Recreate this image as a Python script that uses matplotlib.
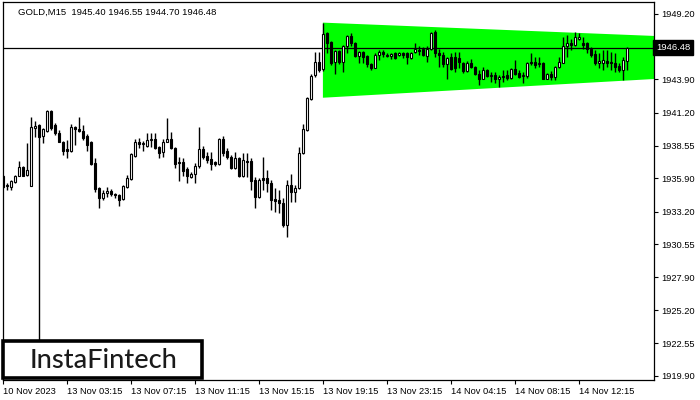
#!/usr/bin/env python3

import numpy as np
import matplotlib
matplotlib.use('Agg')
import matplotlib.pyplot as plt
import matplotlib.transforms as mtransforms
from matplotlib.patches import Rectangle

# GOLD M15 candles
opens = [1936.09, 1935.28, 1935.19, 1935.60, 1936.09, 1936.82, 1936.17, 1935.28, 1939.97, 1940.21,
         1939.33, 1939.73, 1941.35, 1940.21, 1939.57, 1938.85, 1938.27, 1938.11, 1940.05, 1939.89,
         1939.73, 1939.33, 1938.85, 1937.14, 1935.11, 1934.30, 1934.71, 1934.87, 1934.63, 1934.55,
         1934.22, 1935.19, 1935.84, 1937.71, 1938.85, 1938.68, 1938.52, 1939.00, 1939.08, 1938.44,
         1938.03, 1938.85, 1939.08, 1938.35, 1937.22, 1937.22, 1936.65, 1936.01, 1936.25, 1936.90,
         1938.27, 1937.71, 1937.46, 1937.22, 1937.06, 1939.08, 1938.11, 1937.63, 1936.73, 1937.54,
         1936.09, 1937.30, 1937.30, 1935.76, 1934.39, 1935.93, 1935.93, 1935.52, 1934.22, 1934.14,
         1933.90, 1932.12, 1935.36, 1934.79, 1935.11, 1937.95, 1939.81, 1942.32, 1944.26, 1945.32,
         1944.75, 1947.66, 1946.93, 1945.32, 1946.20, 1945.32, 1946.61, 1947.42, 1946.85, 1945.80,
         1946.12, 1945.80, 1945.15, 1944.83, 1945.88, 1946.12, 1945.88, 1945.80, 1946.04, 1945.88,
         1946.04, 1946.04, 1945.64, 1946.12, 1946.29, 1946.37, 1945.80, 1946.37, 1947.75, 1946.04,
         1945.88, 1945.15, 1945.72, 1945.72, 1945.64, 1945.23, 1944.59, 1945.23, 1944.91, 1944.34,
         1943.94, 1944.67, 1944.18, 1944.26, 1943.94, 1944.18, 1944.26, 1944.02, 1944.75, 1944.42,
         1944.18, 1944.18, 1945.32, 1945.32, 1945.15, 1945.23, 1943.94, 1944.34, 1944.10, 1944.91,
         1945.23, 1946.61, 1946.85, 1946.69, 1947.18, 1946.85, 1946.85, 1946.37, 1945.96, 1945.23,
         1945.23, 1945.40, 1945.32, 1945.23, 1944.99, 1944.67, 1945.40]
highs = [1936.17, 1935.52, 1935.76, 1936.17, 1937.30, 1936.90, 1938.76, 1940.86, 1940.50, 1940.30,
         1939.97, 1941.45, 1941.45, 1940.38, 1939.81, 1938.90, 1939.00, 1940.30, 1940.10, 1940.86,
         1940.21, 1939.50, 1938.92, 1937.54, 1935.20, 1934.95, 1935.19, 1935.03, 1934.70, 1934.60,
         1935.36, 1936.17, 1937.95, 1939.08, 1939.16, 1938.92, 1939.57, 1939.57, 1939.57, 1938.50,
         1939.08, 1940.78, 1939.65, 1938.40, 1937.63, 1937.54, 1936.82, 1936.40, 1937.14, 1940.05,
         1938.52, 1938.03, 1938.03, 1937.30, 1939.15, 1939.33, 1938.35, 1937.79, 1938.03, 1937.63,
         1937.95, 1937.95, 1937.54, 1936.01, 1935.93, 1937.63, 1936.57, 1935.76, 1935.11, 1934.95,
         1934.30, 1935.76, 1936.25, 1935.36, 1938.44, 1940.30, 1942.50, 1944.34, 1946.12, 1946.10,
         1948.47, 1947.75, 1947.00, 1946.30, 1946.30, 1946.70, 1947.50, 1947.66, 1946.90, 1946.20,
         1946.20, 1945.90, 1945.23, 1946.04, 1946.29, 1946.29, 1946.04, 1946.04, 1946.10, 1946.12,
         1946.12, 1946.10, 1946.12, 1946.85, 1946.61, 1946.53, 1946.61, 1947.75, 1947.90, 1946.37,
         1946.12, 1945.70, 1946.04, 1946.12, 1946.12, 1945.30, 1945.40, 1945.56, 1945.00, 1944.67,
         1944.91, 1944.75, 1944.51, 1944.51, 1944.26, 1944.67, 1944.67, 1944.80, 1945.48, 1944.67,
         1944.51, 1945.30, 1946.04, 1945.72, 1945.72, 1945.30, 1944.40, 1944.59, 1945.00, 1945.72,
         1947.34, 1947.50, 1947.18, 1947.75, 1947.66, 1947.34, 1946.90, 1946.53, 1946.29, 1946.04,
         1946.29, 1946.29, 1946.12, 1946.04, 1945.23, 1945.72, 1946.55]
lows = [1935.11, 1934.95, 1934.95, 1935.52, 1936.09, 1936.09, 1936.09, 1935.28, 1939.25, 1922.60,
        1938.76, 1939.65, 1939.81, 1939.41, 1938.80, 1937.79, 1937.54, 1938.00, 1938.60, 1939.65,
        1939.00, 1938.11, 1937.00, 1934.79, 1933.50, 1934.14, 1934.39, 1934.47, 1934.30, 1933.65,
        1934.14, 1935.10, 1935.76, 1937.63, 1938.35, 1938.11, 1938.44, 1938.44, 1938.30, 1937.54,
        1937.63, 1938.80, 1938.30, 1936.73, 1935.68, 1936.09, 1935.52, 1935.90, 1935.52, 1936.73,
        1937.50, 1937.14, 1936.57, 1936.90, 1937.00, 1937.71, 1937.46, 1936.65, 1936.65, 1936.01,
        1936.01, 1936.01, 1934.95, 1933.50, 1934.30, 1934.95, 1934.79, 1933.33, 1933.17, 1933.10,
        1931.96, 1931.15, 1933.98, 1933.98, 1935.00, 1937.87, 1939.73, 1942.20, 1944.10, 1944.50,
        1944.60, 1946.04, 1945.07, 1944.34, 1945.15, 1944.51, 1946.04, 1946.61, 1945.70, 1945.23,
        1945.23, 1944.91, 1944.67, 1944.80, 1945.48, 1945.72, 1945.75, 1945.56, 1945.56, 1945.80,
        1945.64, 1945.15, 1945.56, 1946.04, 1945.88, 1945.80, 1945.32, 1946.30, 1945.72, 1944.91,
        1944.91, 1943.94, 1944.70, 1944.51, 1944.83, 1944.42, 1944.50, 1944.83, 1944.26, 1943.45,
        1943.90, 1944.10, 1943.70, 1943.62, 1943.29, 1943.70, 1943.86, 1943.94, 1944.26, 1944.02,
        1943.62, 1944.02, 1945.07, 1944.83, 1944.91, 1943.90, 1943.90, 1943.86, 1943.86, 1944.83,
        1945.20, 1945.72, 1946.29, 1946.60, 1947.10, 1946.37, 1946.04, 1945.72, 1945.07, 1944.83,
        1944.67, 1944.91, 1944.67, 1944.51, 1944.51, 1943.86, 1944.70]
closes = [1935.19, 1935.36, 1935.68, 1936.09, 1936.82, 1936.09, 1936.57, 1940.05, 1940.13, 1939.25,
          1939.89, 1941.35, 1939.97, 1939.57, 1938.85, 1938.11, 1938.11, 1940.05, 1939.89, 1939.73,
          1939.16, 1938.60, 1937.06, 1935.03, 1934.30, 1934.71, 1934.87, 1934.63, 1934.55, 1934.14,
          1935.28, 1935.93, 1937.87, 1938.85, 1938.68, 1938.76, 1939.00, 1939.08, 1938.35, 1937.95,
          1938.85, 1939.08, 1938.35, 1937.06, 1937.14, 1936.49, 1936.09, 1936.25, 1936.90, 1938.27,
          1937.63, 1937.38, 1937.06, 1937.06, 1939.08, 1937.95, 1937.63, 1936.73, 1937.54, 1936.09,
          1937.38, 1937.22, 1935.68, 1934.39, 1935.76, 1935.76, 1935.52, 1934.14, 1934.06, 1933.90,
          1932.12, 1935.36, 1934.79, 1935.11, 1937.95, 1939.89, 1942.40, 1944.18, 1945.32, 1944.67,
          1947.58, 1946.85, 1945.23, 1946.20, 1945.32, 1946.61, 1947.42, 1946.85, 1945.80, 1946.12,
          1945.72, 1945.15, 1944.83, 1945.88, 1946.12, 1945.96, 1945.80, 1945.96, 1945.64, 1946.04,
          1945.88, 1945.72, 1946.04, 1946.37, 1946.20, 1945.88, 1946.37, 1947.66, 1946.04, 1945.88,
          1945.15, 1945.64, 1944.75, 1944.83, 1945.32, 1944.59, 1945.23, 1944.91, 1944.34, 1943.94,
          1944.67, 1944.18, 1944.26, 1943.94, 1944.10, 1944.10, 1944.02, 1944.75, 1944.34, 1944.10,
          1944.26, 1945.23, 1945.23, 1945.07, 1945.23, 1943.94, 1944.34, 1944.10, 1944.91, 1945.32,
          1946.61, 1946.85, 1946.69, 1947.34, 1947.34, 1946.69, 1946.37, 1945.88, 1945.23, 1945.40,
          1945.48, 1945.23, 1945.23, 1944.91, 1944.67, 1945.48, 1946.48]

# pattern (green pennant) corners: start bar, end bar, upper and lower prices
pattern_x = [80, 163]
pattern_top = [1948.50, 1947.42]
pattern_bottom = [1942.42, 1943.94]

last_price = 1946.48
header = 'GOLD,M15  1945.40 1946.55 1944.70 1946.48'

ytick_vals = [1949.20, 1943.90, 1941.20, 1938.55, 1935.90, 1933.20,
              1930.55, 1927.90, 1925.20, 1922.55, 1919.90]
xtick_pos = [0, 16, 32, 48, 64, 80, 96, 112, 128, 144]
xtick_labels = ['10 Nov 2023', '13 Nov 03:15', '13 Nov 07:15', '13 Nov 11:15',
                '13 Nov 15:15', '13 Nov 19:15', '13 Nov 23:15', '14 Nov 04:15',
                '14 Nov 08:15', '14 Nov 12:15']

plt.rcParams['font.family'] = ['Liberation Sans', 'DejaVu Sans']

fig = plt.figure(figsize=(7, 4), dpi=100)
ax = fig.add_axes([3 / 700, 20 / 400, 651 / 700, 378 / 400])
ax.set_xlim(0.05, 162.8)
ax.set_ylim(1919.57, 1950.17)

# pattern area
ax.fill([pattern_x[0], pattern_x[1], pattern_x[1], pattern_x[0]],
        [pattern_top[0], pattern_top[1], pattern_bottom[1], pattern_bottom[0]],
        color='#00ff00', lw=0, zorder=1)

ax.axhline(last_price, color='black', lw=0.9, zorder=2)

o = np.array(opens)
h = np.array(highs)
l = np.array(lows)
c = np.array(closes)
idx = np.arange(len(o))
ax.vlines(idx, l, h, color='black', lw=1.0, zorder=3)
up = c >= o
body_lo = np.minimum(o, c)
body_h = np.maximum(np.abs(c - o), 0.04)
ax.bar(idx[up], body_h[up], bottom=body_lo[up], width=0.65,
       facecolor='white', edgecolor='black', lw=0.8, zorder=4)
ax.bar(idx[~up], body_h[~up], bottom=body_lo[~up], width=0.65,
       facecolor='black', edgecolor='black', lw=0.8, zorder=4)

# axes styling
for side in ['left', 'top', 'right', 'bottom']:
    ax.spines[side].set_linewidth(0.9)
ax.yaxis.tick_right()
ax.set_yticks(ytick_vals)
ax.set_yticklabels(['%.2f' % v for v in ytick_vals])
ax.tick_params(axis='y', direction='out', length=3, width=0.8, labelsize=6.7, pad=2)
ax.set_xticks(xtick_pos)
ax.set_xticklabels(xtick_labels, ha='left')
ax.tick_params(axis='x', direction='out', length=3, width=0.8, labelsize=6.7, pad=2)

# last price box
trans = mtransforms.blended_transform_factory(ax.transAxes, ax.transData)
ax.text(1.003, last_price, '%.2f' % last_price, transform=trans, ha='left', va='center',
        color='white', fontsize=6.8,
        bbox=dict(boxstyle='square,pad=0.3', facecolor='black', edgecolor='black'),
        zorder=10, clip_on=False)

ax.text(0.023, 0.985, header, transform=ax.transAxes, ha='left', va='top', fontsize=6.8)

# logo box
logo = Rectangle((3 / 700, 22 / 400), 199 / 700, 37 / 400, transform=fig.transFigure,
                 facecolor='white', edgecolor='black', lw=2.6, zorder=20)
fig.patches.append(logo)
fig.text(104 / 700, 40 / 400, 'InstaFintech', ha='center', va='center', fontsize=19.5,
         family=['Lato', 'DejaVu Sans'], weight='medium', color='#1a1a1a', zorder=21)

fig.savefig('out.png', dpi=100)
